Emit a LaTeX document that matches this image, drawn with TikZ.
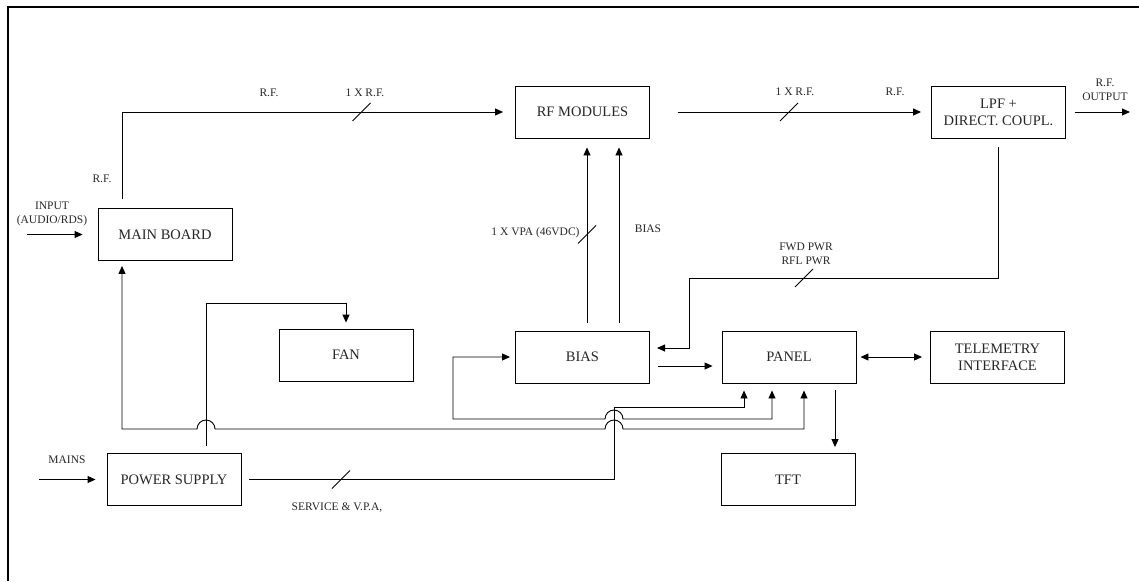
\documentclass[tikz,border=0pt]{standalone}
\usepackage{fontspec}
\setmainfont{Liberation Serif}
\usetikzlibrary{arrows.meta}
\newcommand{\slashmark}[1]{\draw (#1) +(-9,9) -- +(9,-9);}
\begin{document}
\begin{tikzpicture}[x=1pt,y=-1pt,line width=0.9pt]
\tikzstyle{every node}+=[inner sep=0pt,text=black!85]
\tikzstyle{block}=[draw,minimum width=134pt,minimum height=52pt,align=center,font=\fontsize{14.5}{17}\selectfont]
\tikzstyle{lbl}=[align=center,font=\fontsize{11.5}{14}\selectfont]
\tikzstyle{wire}=[-{Triangle[length=8pt,width=7pt]}]
\tikzstyle{wirex}=[{Triangle[length=8pt,width=7pt]}-{Triangle[length=8pt,width=7pt]}]
\useasboundingbox (0,0) rectangle (1139,581);
\draw [line width=2.4pt] (8,581) -- (8,7) -- (1139,7);
% blocks
\node [block] (mainb) at (165,234.5) {MAIN BOARD};
\node [block] (rfmod) at (582.5,112) {RF MODULES};
\node [block] (lpf) at (998.5,112) {LPF +\\DIRECT. COUPL.};
\node [block] (fan) at (346,355) {FAN};
\node [block] (bias) at (582.5,357) {BIAS};
\node [block] (panel) at (789,357) {PANEL};
\node [block] (telem) at (997.5,357) {TELEMETRY\\INTERFACE};
\node [block] (psu) at (174,479.5) {POWER SUPPLY};
\node [block] (tft) at (788,479.5) {TFT};
% input and r.f. chain
\coordinate (audioin) at (27,234.5);
\draw [wire,shorten >=15pt] (audioin) -- (mainb.west);
\node [lbl] (inputlbl) at (52,214) {INPUT\\(AUDIO/RDS)};
\coordinate (rfcorner) at (122,112);
\draw [wire,shorten <=9pt,shorten >=12pt] (rfcorner |- mainb.north) -- (rfcorner) -- (rfmod.west);
\slashmark{361.5,112}
\node [lbl] (rflbla) at (102,179) {R.F.};
\node [lbl] (rflblb) at (269,93) {R.F.};
\node [lbl] (rfonea) at (365,93) {1 X R.F.};
\draw [wire,shorten <=28pt,shorten >=10pt] (rfmod.east) -- (lpf.west);
\slashmark{789,112}
\node [lbl] (rfoneb) at (795,92) {1 X R.F.};
\node [lbl] (rflblc) at (895,92) {R.F.};
\coordinate (rfout) at (1130,112);
\draw [wire,shorten <=9pt] (lpf.east) -- (rfout);
\node [lbl] (outlbl) at (1105,90) {R.F.\\OUTPUT};
% bias to rf modules
\coordinate (vpax) at (587,0);
\coordinate (biasx) at (619,0);
\draw [wire,shorten <=8pt,shorten >=9pt] (bias.north -| vpax) -- (rfmod.south -| vpax);
\draw [wire,shorten <=8pt,shorten >=9pt] (bias.north -| biasx) -- (rfmod.south -| biasx);
\slashmark{587,234.5}
\node [lbl,anchor=east] (vpalbl) at (580,233) {1 X VPA (46VDC)};
\node [lbl] (biaslbl) at (648,229) {BIAS};
% fwd / rfl power
\coordinate (fbkcorner) at (689,278);
\coordinate (fbkin) at (649,348);
\draw [wire,shorten <=9pt,shorten >=8pt] (lpf.south) |- (fbkcorner) |- (fbkin);
\slashmark{804,278}
\node [lbl] (pwrlbl) at (806,254) {FWD PWR\\RFL PWR};
% panel links
\draw [wire,shorten <=8pt,shorten >=9pt] ([yshift=-9pt]bias.east) -- ([yshift=-9pt]panel.west);
\draw [wirex,shorten <=4pt,shorten >=8pt] (panel.east) -- (telem.west);
\coordinate (tftx) at (835,0);
\draw [wire,shorten <=7pt,shorten >=6pt] (panel.south -| tftx) -- (tft.north -| tftx);
% power supply
\coordinate (mainsin) at (39,479.5);
\draw [wire,shorten >=11pt] (mainsin) -- (psu.west);
\node [lbl] (mainslbl) at (67,460) {MAINS};
\coordinate (fancorner) at (206,303);
\draw [wire,shorten <=7pt,shorten >=6pt] (psu.north -| fancorner) -- (fancorner) -| (fan.north);
\coordinate (svcx) at (614,407);
\coordinate (svcpx) at (744,0);
\draw [wire,shorten <=8pt,shorten >=7pt] (psu.east) -| (svcx) -| (panel.south -| svcpx);
\slashmark{341,479.5}
\node [lbl] (svclbl) at (337,508) {SERVICE \& V.P.A,};
% main board <-> panel
\coordinate (mbpx) at (804,429);
\coordinate (mbx) at (122,429);
\draw [wirex,shorten <=7pt,shorten >=5pt] (panel.south -| mbpx) -- (mbpx) -- (623,429)
  arc [start angle=0,end angle=180,radius=9pt] -- (215,429)
  arc [start angle=0,end angle=180,radius=9pt] -- (mbx) -- (mainb.south -| mbx);
% bias <-> panel
\coordinate (bppx) at (772,419);
\coordinate (bpcorner) at (453,419);
\draw [wirex,shorten <=7pt,shorten >=5pt] (panel.south -| bppx) -- (bppx) -- (623,419)
  arc [start angle=0,end angle=180,radius=9pt] -- (bpcorner) |- (bias.west);
\end{tikzpicture}
\end{document}
